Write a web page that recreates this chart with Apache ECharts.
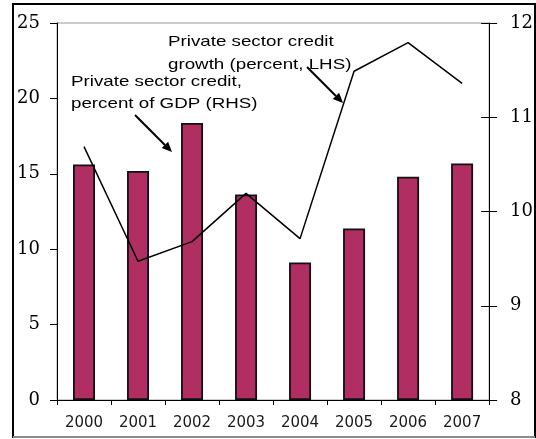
<!DOCTYPE html>
<html>
<head>
<meta charset="utf-8">
<style>
  html, body { margin: 0; padding: 0; background: #fff; }
  #chart { width: 536px; height: 439px; }
</style>
<script src="https://cdn.jsdelivr.net/npm/echarts@6/dist/echarts.min.js"></script>
</head>
<body>
<div id="chart"></div>
<script>
// Years on the category axis
const years = ['2000', '2001', '2002', '2003', '2004', '2005', '2006', '2007'];
// Private sector credit, percent of GDP (right-hand scale)
const creditToGdp = [10.50, 10.43, 10.94, 10.18, 9.46, 9.82, 10.37, 10.51];
// Private sector credit growth, percent (left-hand scale)
const creditGrowth = [16.8, 9.2, 10.5, 13.7, 10.7, 21.8, 23.7, 21.0];
// Axis tick settings
const leftTicks = { min: 0, max: 25, interval: 5 };
const rightTicks = { min: 8, max: 12, interval: 1 };

const serif = '"DejaVu Serif", "Liberation Serif", serif';
const sans = '"Liberation Sans", Arial, sans-serif';
const wideSans = '"DejaVu Sans", "Liberation Sans", sans-serif';

const chart = echarts.init(document.getElementById('chart'), null, { renderer: 'canvas' });

// Builds a line with a filled arrowhead at its end point
function arrow(x1, y1, x2, y2) {
  const ang = Math.atan2(y2 - y1, x2 - x1);
  const len = 10, half = 4.5;
  const bx = x2 - len * Math.cos(ang), by = y2 - len * Math.sin(ang);
  const px = -Math.sin(ang) * half, py = Math.cos(ang) * half;
  return [
    { type: 'line', shape: { x1: x1, y1: y1, x2: bx, y2: by },
      style: { stroke: '#000', lineWidth: 2 }, z: 100 },
    { type: 'polygon', shape: { points: [[x2, y2], [bx + px, by + py], [bx - px, by - py]] },
      style: { fill: '#000' }, z: 100 }
  ];
}

// Two-line annotation, stretched a little horizontally
function note(x, y, text, lh) {
  return { type: 'text', x: x, y: y, scaleX: 1.25, z: 100,
           style: { text: text, font: '15px ' + sans, lineHeight: lh, fill: '#000',
                    verticalAlign: 'top', align: 'left' } };
}

const axisBlack = { lineStyle: { color: '#000', width: 1 } };

chart.setOption({
  animation: false,
  backgroundColor: '#fff',
  grid: { left: 57, right: 46, top: 23, bottom: 39, show: true, borderColor: '#9a9a9a', borderWidth: 1 },
  xAxis: {
    type: 'category',
    data: years,
    boundaryGap: true,
    axisLine: { show: true, lineStyle: { color: '#000', width: 1 } },
    axisTick: { show: true, length: 5, lineStyle: { color: '#000' } },
    axisLabel: { color: '#1a1a1a', fontFamily: wideSans, fontSize: 15, margin: 16 },
    splitLine: { show: false }
  },
  yAxis: [
    {
      type: 'value', position: 'left',
      min: leftTicks.min, max: leftTicks.max, interval: leftTicks.interval,
      axisLine: Object.assign({ show: true }, axisBlack),
      axisTick: { show: true, length: 7, lineStyle: { color: '#000' } },
      axisLabel: { color: '#000', fontFamily: serif, fontSize: 18, margin: 17 },
      splitLine: { show: false }
    },
    {
      type: 'value', position: 'right',
      min: rightTicks.min, max: rightTicks.max, interval: rightTicks.interval,
      startValue: rightTicks.min,
      axisLine: Object.assign({ show: true }, axisBlack),
      axisTick: { show: true, length: 8, lineStyle: { color: '#000' } },
      axisLabel: { color: '#000', fontFamily: serif, fontSize: 18, margin: 21 },
      splitLine: { show: false }
    },
    {
      // inner half of the crossing ticks on the right axis
      type: 'value', position: 'right',
      min: rightTicks.min, max: rightTicks.max, interval: rightTicks.interval,
      axisLine: { show: false },
      axisTick: { show: true, inside: true, length: 8, lineStyle: { color: '#000' } },
      axisLabel: { show: false },
      splitLine: { show: false }
    }
  ],
  series: [
    {
      name: 'Private sector credit, percent of GDP (RHS)',
      type: 'bar',
      yAxisIndex: 1,
      data: creditToGdp,
      barWidth: 22,
      itemStyle: { color: '#B02E62', borderColor: '#111', borderWidth: 1.8 },
      z: 2
    },
    {
      name: 'Private sector credit growth (percent, LHS)',
      type: 'line',
      yAxisIndex: 0,
      data: creditGrowth,
      symbol: 'none',
      lineStyle: { color: '#000', width: 1.5 },
      z: 3
    }
  ],
  graphic: [
    // outer frame
    { type: 'rect', shape: { x: 13, y: 4, width: 522, height: 433 },
      style: { fill: 'none', stroke: '#000', lineWidth: 2 }, z: 90 },
    { type: 'line', shape: { x1: 13, y1: 437, x2: 535, y2: 437 },
      style: { stroke: '#8a8a8a', lineWidth: 2 }, z: 91 },
    note(168, 30, 'Private sector credit\ngrowth (percent, LHS)', 23),
    note(71, 71, 'Private sector credit,\npercent of GDP (RHS)', 22)
  ].concat(arrow(135, 115, 172, 152), arrow(307, 67, 343, 103))
});
</script>
</body>
</html>
